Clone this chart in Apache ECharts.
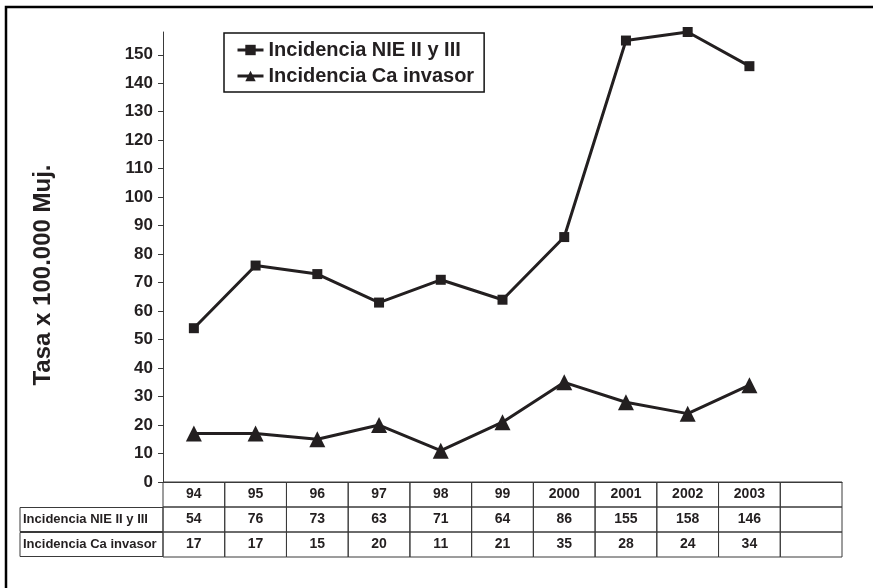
<!DOCTYPE html>
<html>
<head>
<meta charset="utf-8">
<script src="https://cdn.jsdelivr.net/npm/echarts@6/dist/echarts.min.js"></script>
<style>
  html, body { margin: 0; padding: 0; background: #ffffff; }
  #chart { width: 873px; height: 588px; }
</style>
</head>
<body>
<div id="chart"></div>
<script>
// Years shown on the category axis (last column is left blank)
const years = ['94', '95', '96', '97', '98', '99', '2000', '2001', '2002', '2003', ''];
// Incidence rates per 100.000 women
const nieValues = [54, 76, 73, 63, 71, 64, 86, 155, 158, 146];
const caValues = [17, 17, 15, 20, 11, 21, 35, 28, 24, 34];
// Series names, also used as the table's row headers
const seriesNames = ['Incidencia NIE II y III', 'Incidencia Ca invasor'];
// Value axis tick labels
const yTicks = [0, 10, 20, 30, 40, 50, 60, 70, 80, 90, 100, 110, 120, 130, 140, 150];

const FONT = "'Liberation Sans', Arial, sans-serif";
const INK = '#231f20';
const GRIDLINE = '#3a3a3a';

// Data-table cells: header row with years, then one row per series
const tableRows = [years, nieValues, caValues];
const cells = [];
tableRows.forEach(function (row, r) {
  years.forEach(function (_, i) {
    const v = row[i];
    cells.push({ value: [i, r], text: v === undefined ? '' : String(v) });
  });
});

const chart = echarts.init(document.getElementById('chart'), null, { renderer: 'canvas' });

chart.setOption({
  animation: false,
  backgroundColor: '#ffffff',
  graphic: [{
    type: 'rect',
    silent: true,
    shape: { x: 6, y: 7, width: 1000, height: 1000 },
    style: { fill: 'none', stroke: '#000000', lineWidth: 2.5 }
  }],
  legend: {
    orient: 'vertical',
    left: 224,
    top: 33,
    padding: [7, 10, 6, 12],
    itemGap: 6,
    itemWidth: 26,
    itemHeight: 13,
    borderColor: '#111111',
    borderWidth: 1.5,
    data: seriesNames,
    lineStyle: { width: 3 },
    textStyle: { fontFamily: FONT, fontWeight: 'bold', fontSize: 20, color: INK, lineHeight: 20 }
  },
  grid: [
    { left: 163, right: 31, top: 32, bottom: 106, containLabel: false },
    { left: 163, right: 31, top: 482, height: 75, containLabel: false }
  ],
  xAxis: [
    {
      type: 'category',
      gridIndex: 0,
      data: years,
      boundaryGap: true,
      axisLine: { show: true, lineStyle: { color: GRIDLINE, width: 1 } },
      axisTick: { show: false },
      axisLabel: { show: false },
      splitLine: { show: false }
    },
    {
      type: 'category',
      gridIndex: 1,
      data: years,
      boundaryGap: true,
      show: false
    }
  ],
  yAxis: [
    {
      type: 'value',
      gridIndex: 0,
      min: 0,
      max: 158,
      interval: 10,
      name: 'Tasa x 100.000 Muj.',
      nameLocation: 'middle',
      nameGap: 108,
      nameRotate: 90,
      nameTextStyle: {
        fontFamily: FONT, fontWeight: 'bold', fontSize: 24, color: INK,
        padding: [0, 36, 0, 0]
      },
      axisLine: { show: true, lineStyle: { color: GRIDLINE, width: 1 } },
      axisTick: { show: true, length: 5, inside: false, customValues: yTicks, lineStyle: { color: GRIDLINE } },
      axisLabel: {
        customValues: yTicks,
        margin: 10,
        fontFamily: FONT, fontWeight: 'bold', fontSize: 17, color: INK
      },
      splitLine: { show: false }
    },
    {
      type: 'category',
      gridIndex: 1,
      inverse: true,
      data: ['', seriesNames[0], seriesNames[1]],
      axisLine: { show: false },
      axisTick: { show: false },
      axisLabel: {
        margin: 0,
        formatter: function (v) { return v ? '{c|' + v + '}' : ''; },
        rich: {
          c: {
            width: 140,
            height: 24,
            padding: [0, 0, 0, 3],
            align: 'left',
            borderColor: GRIDLINE,
            borderWidth: 1,
            fontFamily: FONT, fontWeight: 'bold', fontSize: 13, color: INK
          }
        }
      },
      splitLine: { show: false }
    }
  ],
  series: [
    {
      name: seriesNames[0],
      type: 'line',
      xAxisIndex: 0,
      yAxisIndex: 0,
      data: nieValues,
      symbol: 'rect',
      symbolSize: 10,
      lineStyle: { color: INK, width: 3 },
      itemStyle: { color: INK },
      z: 3
    },
    {
      name: seriesNames[1],
      type: 'line',
      xAxisIndex: 0,
      yAxisIndex: 0,
      data: caValues,
      symbol: 'triangle',
      symbolSize: 16,
      lineStyle: { color: INK, width: 3 },
      itemStyle: { color: INK },
      z: 3
    },
    {
      // Data table under the plot, one cell per category and row
      type: 'custom',
      xAxisIndex: 1,
      yAxisIndex: 1,
      silent: true,
      data: cells,
      renderItem: function (params, api) {
        const center = api.coord([api.value(0), api.value(1)]);
        const size = api.size([1, 1]);
        const cell = cells[params.dataIndex];
        return {
          type: 'group',
          children: [
            {
              type: 'rect',
              shape: { x: center[0] - size[0] / 2, y: center[1] - size[1] / 2, width: size[0], height: size[1] },
              style: { fill: 'none', stroke: GRIDLINE, lineWidth: 1 }
            },
            {
              type: 'text',
              style: {
                x: center[0], y: center[1],
                text: cell.text,
                align: 'center', verticalAlign: 'middle',
                font: 'bold 14px ' + FONT,
                fill: INK
              }
            }
          ]
        };
      }
    }
  ]
});
</script>
</body>
</html>
